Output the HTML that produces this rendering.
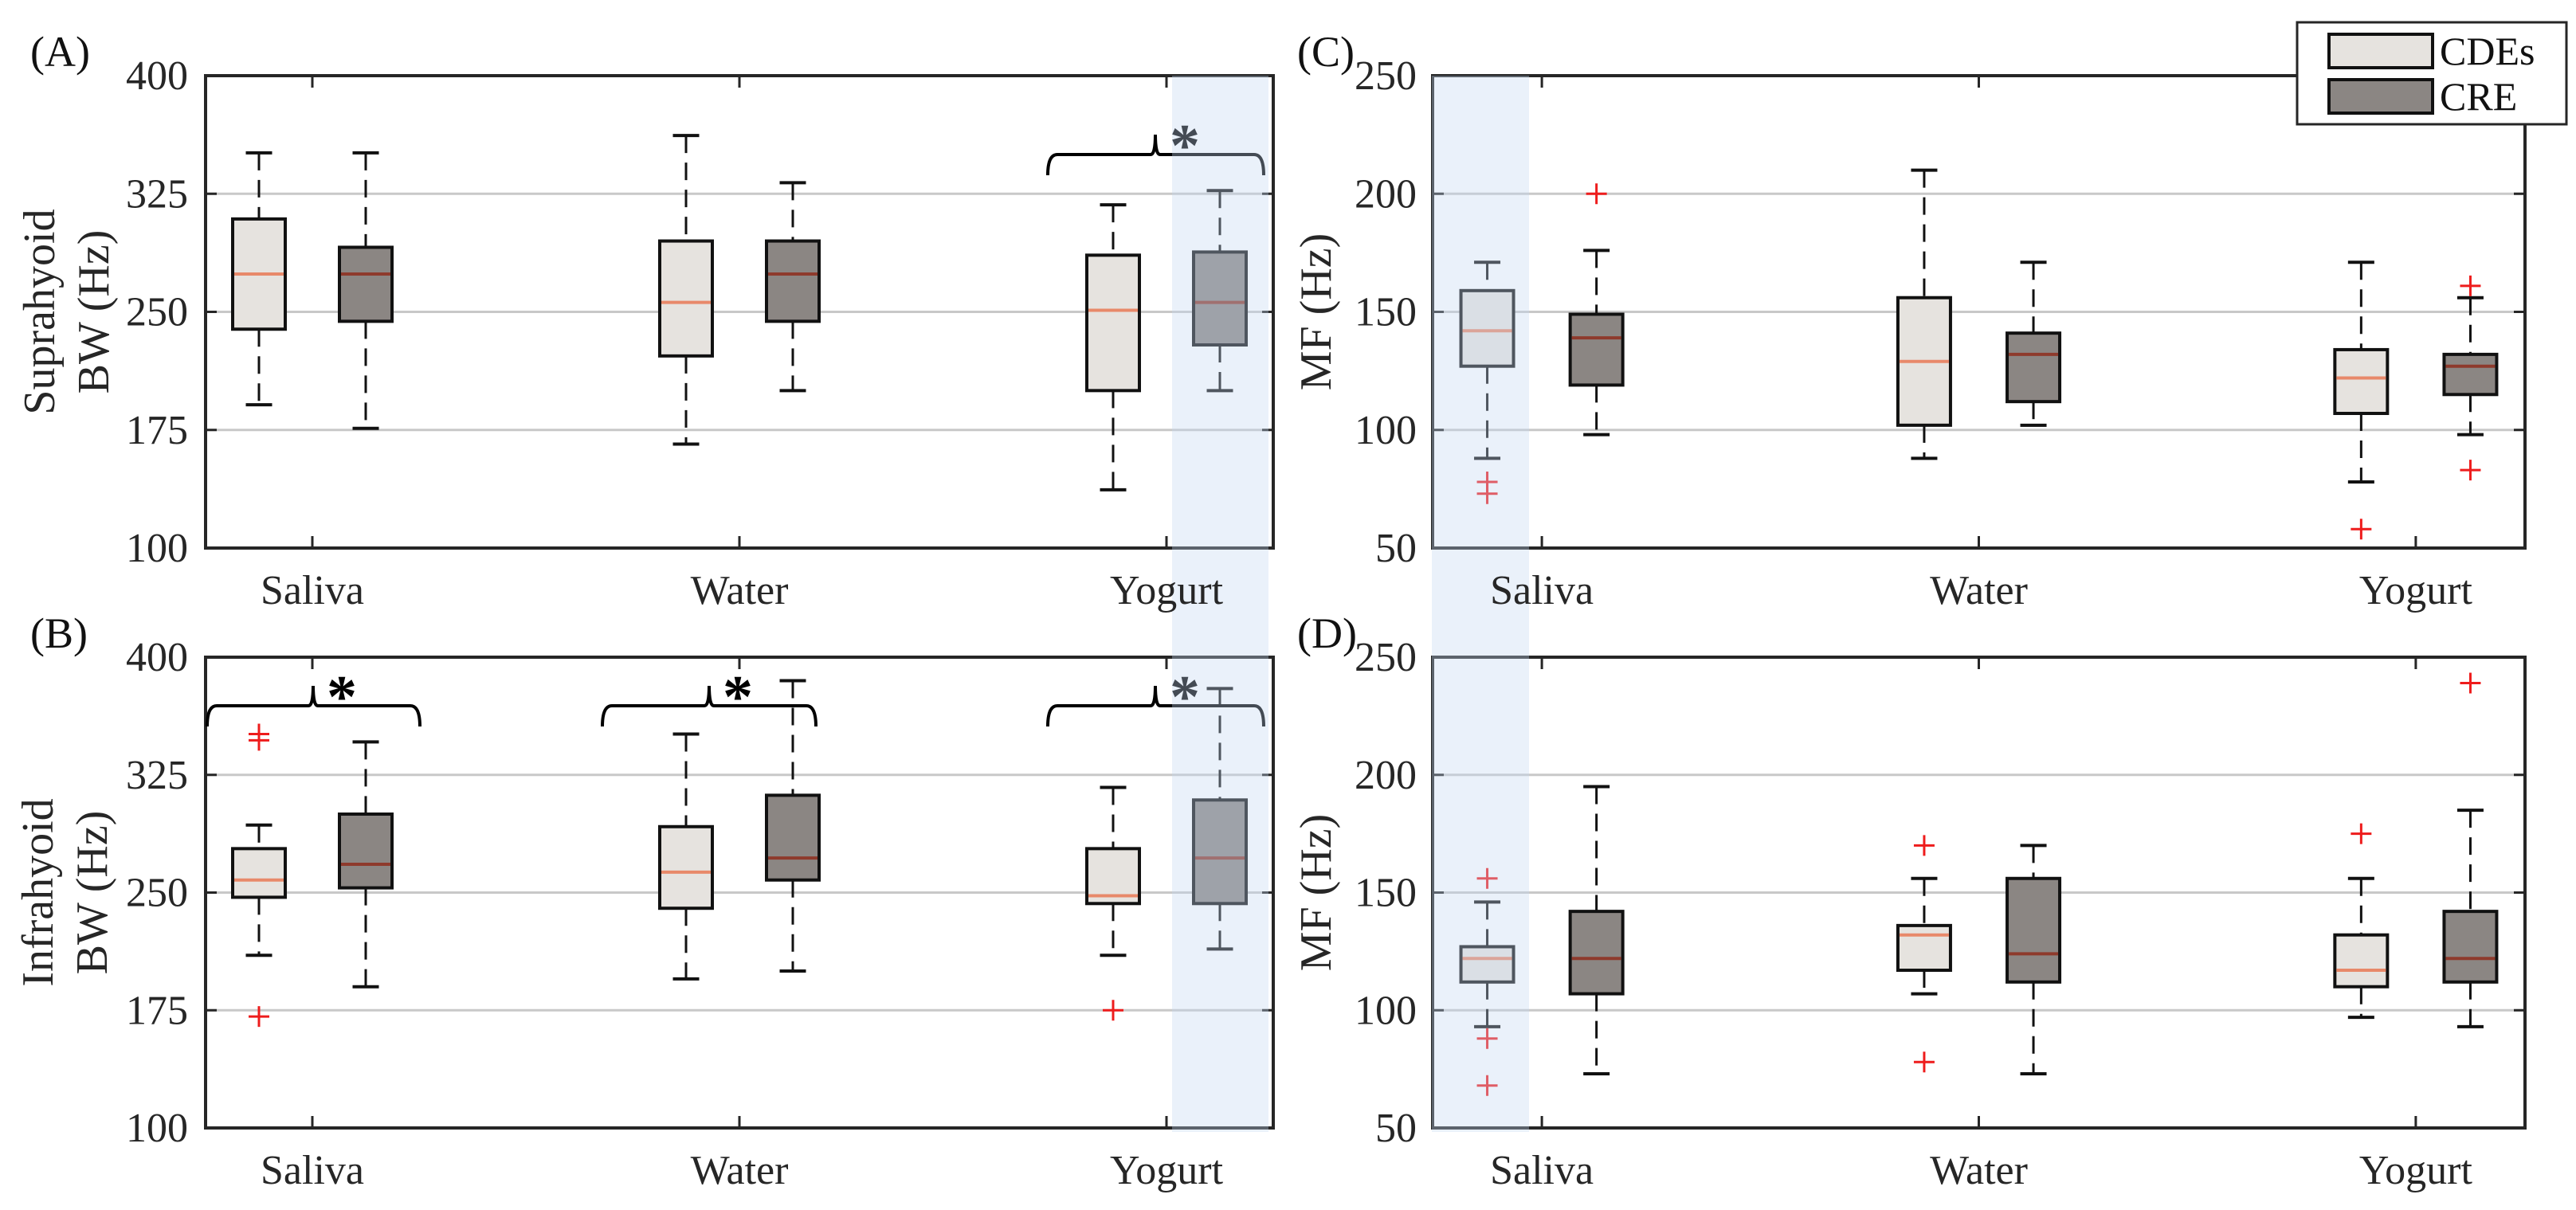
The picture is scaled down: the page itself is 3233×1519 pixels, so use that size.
<!DOCTYPE html>
<html><head><meta charset="utf-8">
<style>
html,body{margin:0;padding:0;background:#fff;}
svg{display:block;font-family:"Liberation Serif",serif;}
</style></head>
<body>
<svg id="fig" width="3233" height="1519" viewBox="0 0 3233 1519" xmlns="http://www.w3.org/2000/svg"></svg>
<script>
const categories = ["Saliva","Water","Yogurt"];
const groups = ["CDEs","CRE"];
// five-number summaries [low, q1, median, q3, high]
const aCDE = [[191,239,274,309,351],[166,222,256,295,362],[137,200,251,286,318]];
const aCRE = [[176,244,274,291,351],[200,244,274,295,332],[200,229,256,288,327]];
const bCDE = [[210,247,258,278,293],[195,240,263,292,351],[210,243,248,278,317]];
const bCRE = [[190,253,268,300,346],[200,258,272,312,385],[214,243,272,309,380]];
const cCDE = [[88,127,142,159,171],[88,102,129,156,210],[78,107,122,134,171]];
const cCRE = [[98,119,139,149,176],[102,112,132,141,171],[98,115,127,132,156]];
const dCDE = [[93,112,122,127,146],[107,117,132,136,156],[97,110,117,132,156]];
const dCRE = [[73,107,122,142,195],[73,112,124,156,170],[93,112,122,142,185]];
// outliers [categoryIndex, value]
const aOutCDE = [], aOutCRE = [];
const bOutCDE = [[0,351],[0,347],[0,171],[2,175]], bOutCRE = [];
const cOutCDE = [[0,78],[0,73],[2,58]], cOutCRE = [[0,200],[2,161],[2,83]];
const dOutCDE = [[0,156],[0,88],[0,68],[1,170],[1,78],[2,175]], dOutCRE = [[2,239]];
const bwTicks = [100,175,250,325,400];
const mfTicks = [50,100,150,200,250];

const NS="http://www.w3.org/2000/svg";
const svg=document.getElementById('fig');
function mk(tag,attrs,parent){const e=document.createElementNS(NS,tag);for(const k in attrs)e.setAttribute(k,attrs[k]);(parent||svg).appendChild(e);return e;}

const panels=[
 {id:'a',label:'(A)',L:258,R:1598,T:95,B:688,ticks:bwTicks,cde:aCDE,cre:aCRE,oc:aOutCDE,or:aOutCRE,ylab:['Suprahyoid','BW (Hz)'],labX:[50,118],tickX:236,plX:38},
 {id:'b',label:'(B)',L:258,R:1598,T:825,B:1416,ticks:bwTicks,cde:bCDE,cre:bCRE,oc:bOutCDE,or:bOutCRE,ylab:['Infrahyoid','BW (Hz)'],labX:[48,116],tickX:236,plX:38},
 {id:'c',label:'(C)',L:1798,R:3169,T:95,B:688,ticks:mfTicks,cde:cCDE,cre:cCRE,oc:cOutCDE,or:cOutCRE,ylab:['MF (Hz)'],labX:[1652],tickX:1778,plX:1628},
 {id:'d',label:'(D)',L:1798,R:3169,T:825,B:1416,ticks:mfTicks,cde:dCDE,cre:dCRE,oc:dOutCDE,or:dOutCRE,ylab:['MF (Hz)'],labX:[1652],tickX:1778,plX:1628}
];

function xs(p,v){return p.L+(v-0.75)/2.5*(p.R-p.L);}
function ys(p,v){const t=p.ticks;return p.B-(v-t[0])/(t[t.length-1]-t[0])*(p.B-p.T);}

function drawBox(g,p,ci,s,fill,medCol,off,name){
  const cx=xs(p,ci+1+off),w=66,cap=33;
  const bg=mk('g',{},g);
  
  
  mk('line',{x1:cx,x2:cx,y1:ys(p,s[4]),y2:ys(p,s[3]),stroke:'#111','stroke-width':3,'stroke-dasharray':'22,12'},bg);
  mk('line',{x1:cx,x2:cx,y1:ys(p,s[1]),y2:ys(p,s[0]),stroke:'#111','stroke-width':3,'stroke-dasharray':'22,12'},bg);
  mk('line',{x1:cx-cap/2,x2:cx+cap/2,y1:ys(p,s[4]),y2:ys(p,s[4]),stroke:'#111','stroke-width':4},bg);
  mk('line',{x1:cx-cap/2,x2:cx+cap/2,y1:ys(p,s[0]),y2:ys(p,s[0]),stroke:'#111','stroke-width':4},bg);
  mk('rect',{x:cx-w/2,y:ys(p,s[3]),width:w,height:ys(p,s[1])-ys(p,s[3]),fill:fill,stroke:'#111','stroke-width':4},bg);
  mk('line',{x1:cx-w/2+2,x2:cx+w/2-2,y1:ys(p,s[2]),y2:ys(p,s[2]),stroke:medCol,'stroke-width':4},bg);
}
function drawOut(g,p,arr,off,name){
  arr.forEach(o=>{
    const cx=xs(p,o[0]+1+off),cy=ys(p,o[1]);
    const e=mk('path',{d:`M${cx-13},${cy}H${cx+13}M${cx},${cy-13}V${cy+13}`,stroke:'#ee1c1c','stroke-width':3,fill:'none'},g);
    
    
  });
}

panels.forEach(p=>{
  const g=mk('g',{});
  
  
  p.ticks.slice(1,-1).forEach(t=>{
    mk('line',{x1:p.L,x2:p.R,y1:ys(p,t),y2:ys(p,t),stroke:'#c8c8c8','stroke-width':3},g);
    mk('line',{x1:p.L,x2:p.L+14,y1:ys(p,t),y2:ys(p,t),stroke:'#262626','stroke-width':3},g);
    mk('line',{x1:p.R-14,x2:p.R,y1:ys(p,t),y2:ys(p,t),stroke:'#262626','stroke-width':3},g);
  });
  categories.forEach((c,i)=>{
    const x=xs(p,i+1);
    mk('line',{x1:x,x2:x,y1:p.B,y2:p.B-15,stroke:'#262626','stroke-width':3},g);
    mk('line',{x1:x,x2:x,y1:p.T,y2:p.T+15,stroke:'#262626','stroke-width':3},g);
  });
  p.cde.forEach((s,i)=>drawBox(g,p,i,s,'#e6e3df','#e8896a',-0.125,'box-cdes-'+categories[i].toLowerCase()));
  p.cre.forEach((s,i)=>drawBox(g,p,i,s,'#8b8683','#8e3a2c',0.125,'box-cre-'+categories[i].toLowerCase()));
  drawOut(g,p,p.oc,-0.125,'outlier-cdes');
  drawOut(g,p,p.or,0.125,'outlier-cre');
  mk('rect',{x:p.L,y:p.T,width:p.R-p.L,height:p.B-p.T,fill:'none',stroke:'#262626','stroke-width':4},g);
});

// brackets
function brace(x1,x2,xp,y,xa,name){
  const g=mk('g',{});
  
  
  mk('path',{d:`M${x1},${y+26} Q${x1},${y} ${x1+12},${y} H${xp-6} Q${xp},${y} ${xp},${y-25} Q${xp},${y} ${xp+6},${y} H${x2-12} Q${x2},${y} ${x2},${y+26}`,fill:'none',stroke:'#000','stroke-width':4},g);
  const t=mk('text',{x:xa,y:y+14,'font-size':76,'font-weight':'bold','text-anchor':'middle',fill:'#000'},g);
  t.textContent='*';
}
brace(1315,1586,1450,194,1487,'significance-bracket-a-yogurt');
brace(260,527,393,886,429,'significance-bracket-b-saliva');
brace(756,1024,890,886,926,'significance-bracket-b-water');
brace(1315,1586,1450,886,1487,'significance-bracket-b-yogurt');

// highlights
const h1=mk('rect',{x:1471,y:95,width:121,height:1326,fill:'#c4d8f0','fill-opacity':0.35});


const h2=mk('rect',{x:1797,y:95,width:122,height:1326,fill:'#c4d8f0','fill-opacity':0.35});



// text layer
panels.forEach(p=>{
  const g=mk('g',{});
  
  
  p.ticks.forEach(t=>{
    const e=mk('text',{x:p.tickX,y:ys(p,t)+17,'font-size':52,'text-anchor':'end',fill:'#262626'},g);
    e.textContent=t;
    
    
  });
  categories.forEach((c,i)=>{
    const e=mk('text',{x:xs(p,i+1),y:p.B+70,'font-size':52,'text-anchor':'middle',fill:'#262626'},g);
    e.textContent=c;
    
    
  });
  const cy=(p.T+p.B)/2;
  p.ylab.forEach((l,k)=>{
    const e=mk('text',{x:p.labX[k],y:cy,'font-size':56,'text-anchor':'middle','dominant-baseline':'central',transform:`rotate(-90 ${p.labX[k]} ${cy})`,fill:'#262626'},g);
    e.textContent=l;
    
    
  });
  const pl=mk('text',{x:p.plX,y:p.T-12,'font-size':54,fill:'#111'},g);
  pl.textContent=p.label;
  
  
});

// legend
const lg=mk('g',{});


mk('rect',{x:2883,y:28,width:338,height:128,fill:'#fff',stroke:'#262626','stroke-width':3},lg);
[['CDEs','#e6e3df',43],['CRE','#8b8683',100]].forEach(r=>{
  const e=mk('g',{},lg);
  
  
  mk('rect',{x:2923,y:r[2],width:130,height:42,fill:r[1],stroke:'#111','stroke-width':4},e);
  const t=mk('text',{x:3062,y:r[2]+38,'font-size':50,fill:'#111'},e);
  t.textContent=r[0];
});
</script>
</body></html>
